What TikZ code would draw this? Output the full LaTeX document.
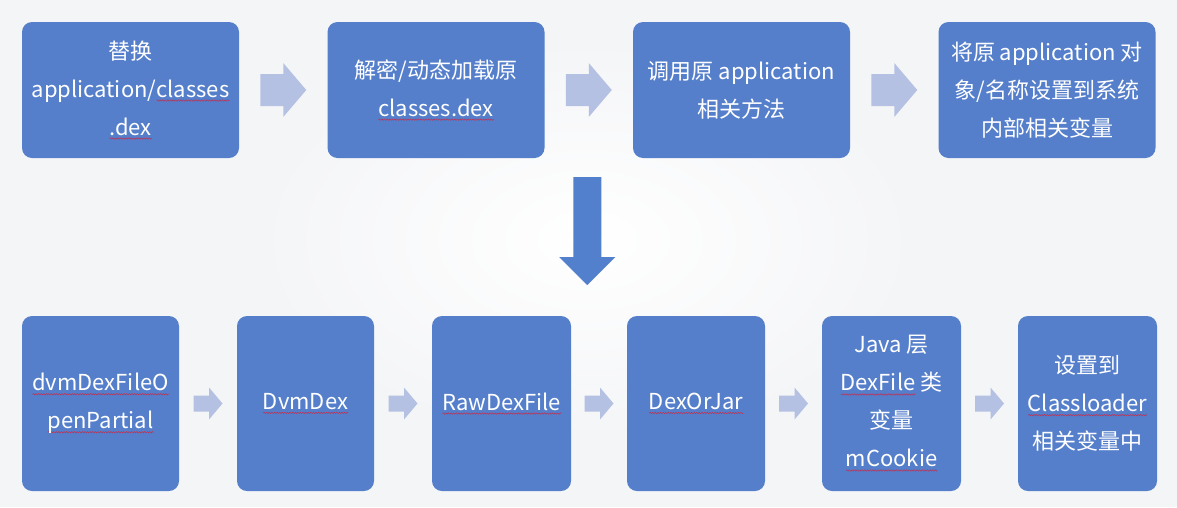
\documentclass[tikz,border=0pt]{standalone}
\usepackage{fontspec}
\setmainfont{Noto Sans CJK SC}
\usetikzlibrary{calc,decorations.pathmorphing}
\definecolor{bgc}{HTML}{F4F5F7}
\definecolor{boxc}{HTML}{557FCB}
\definecolor{lightarr}{HTML}{B5C1E3}
\definecolor{downarr}{HTML}{5280CC}
\definecolor{squig}{HTML}{C03050}
\newsavebox\sqbox
\newcommand\sq[1]{\sbox\sqbox{#1}\rlap{\pgfinterruptpicture\tikz[x=1pt,y=1pt,baseline={(0pt,0pt)},sharp corners]{\draw[squig, line width=0.5pt, sharp corners, decorate, decoration={snake, amplitude=0.7pt, segment length=2.6pt}] (0pt,-3.5pt) -- (\the\wd\sqbox,-3.5pt);}\endpgfinterruptpicture}\usebox\sqbox}
\tikzset{
  boxstyle/.style={fill=boxc, rounded corners=10pt, text=white, align=center,
    font=\fontsize{22}{38}\selectfont, inner sep=0pt},
  topbox/.style={boxstyle, minimum width=217pt, minimum height=136pt},
  botbox/.style={boxstyle, minimum width=139pt, minimum height=175pt},
  bigr/.pic={\fill[lightarr] (-23,-16) -- (0,-16) -- (0,-27) -- (23,0) -- (0,27) -- (0,16) -- (-23,16) -- cycle;},
  smallr/.pic={\fill[lightarr] (-14.5,-8) -- (1,-8) -- (1,-16) -- (14.5,0) -- (1,16) -- (1,8) -- (-14.5,8) -- cycle;},
  downa/.pic={\fill[downarr] (-14,-54) -- (14,-54) -- (14,26) -- (28,26) -- (0,54) -- (-28,26) -- (-14,26) -- cycle;}
}
\begin{document}
\begin{tikzpicture}[x=1pt,y=-1pt]
\fill[bgc] (0,0) rectangle (1177,507);
\shade[inner color=white, outer color=bgc] (587,240) ellipse (330 and 200);
\useasboundingbox (0,0) rectangle (1177,507);
% top row
\node[topbox] (t1) at (130.5,90) {替换\\application/\sq{classes}\\\sq{.dex}};
\node[topbox] (t2) at (436,90) {解密/动态加载原\\\sq{classes.dex}};
\node[topbox] (t3) at (741.5,90) {调用原 application\\相关方法};
\node[topbox] (t4) at (1047,90) {将原 application 对\\象/名称设置到系统\\内部相关变量};
\pic at ($(t1.east)!0.5!(t2.west)$) {bigr};
\pic at ($(t2.east)!0.5!(t3.west)$) {bigr};
\pic at ($(t3.east)!0.5!(t4.west)$) {bigr};
% bottom row
\node[botbox, minimum width=157pt] (b1) at (100.5,403.5) {\sq{dvmDexFileO}\\\sq{penPartial}};
\node[botbox, minimum width=137pt] (b2) at (305.5,403.5) {\sq{DvmDex}};
\node[botbox] (b3) at (501.5,403.5) {\sq{RawDexFile}};
\node[botbox, minimum width=138pt] (b4) at (696,403.5) {\sq{DexOrJar}};
\node[botbox] (b5) at (891.5,403.5) {Java 层\\\sq{DexFile} 类\\变量\\\sq{mCookie}};
\node[botbox] (b6) at (1087.5,403.5) {设置到\\\sq{Classloader}\\相关变量中};
\pic at ($(b1.east)!0.5!(b2.west)$) {smallr};
\pic at ($(b2.east)!0.5!(b3.west)$) {smallr};
\pic at ($(b3.east)!0.5!(b4.west)$) {smallr};
\pic at ($(b4.east)!0.5!(b5.west)$) {smallr};
\pic at ($(b5.east)!0.5!(b6.west)$) {smallr};
% down arrow
\coordinate (dm) at ($(t2.south east)!0.5!(t3.south west) + (-1.5,73)$);
\pic at (dm) {downa};
\end{tikzpicture}
\end{document}
